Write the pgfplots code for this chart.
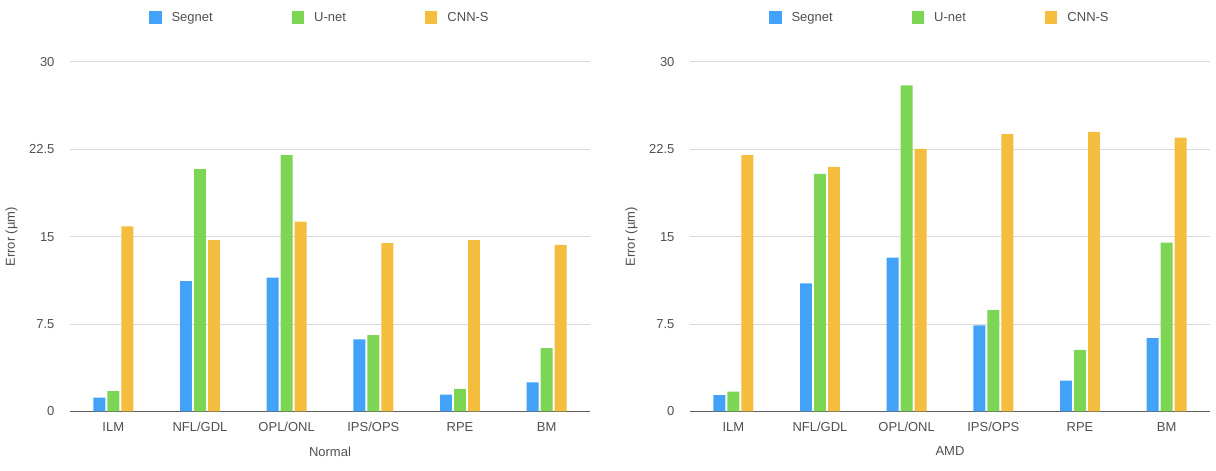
\documentclass[border=0pt]{standalone}
\usepackage{pgfplots}
\pgfplotsset{compat=1.18}
\usepackage{fontspec}
\setmainfont{Liberation Sans}
\definecolor{segblue}{RGB}{66,162,247}
\definecolor{ugreen}{RGB}{124,214,84}
\definecolor{cyellow}{RGB}{245,189,62}
\definecolor{txt}{RGB}{80,80,80}
\definecolor{gridc}{RGB}{217,217,217}
\definecolor{axc}{RGB}{95,95,95}
\pgfplotsset{
  mybars/.style={
    scale only axis, width=520pt, height=349.5pt,
    xmin=-0.5, xmax=5.5, ymin=0, ymax=30,
    xtick={0,1,2,3,4,5},
    xticklabels={ILM,NFL/GDL,OPL/ONL,IPS/OPS,RPE,BM},
    ytick={7.5,15,22.5,30},
    extra y ticks={0}, extra y tick labels={0},
    extra y tick style={grid style={draw=axc, line width=1.6pt}},
    ymajorgrids, grid style={draw=gridc, line width=1pt},
    axis line style={draw=none},
    major tick length=0pt,
    tick label style={font=\fontsize{13}{15}\selectfont, text=txt},
    /pgf/number format/assume math mode=true,
    yticklabel style={xshift=-12pt},
    xticklabel style={text height=9.5pt, text depth=2pt, yshift=-7pt},
    label style={font=\fontsize{13}{15}\selectfont, text=txt},
    xlabel style={at={(axis description cs:0.5,0)}, anchor=center, yshift=-40pt},
    ylabel style={at={(axis description cs:0,0.5)}, anchor=center, yshift=58.5pt},
    ylabel={Error (µm)},
    ybar, bar width=0.138,
    legend columns=3,
    legend style={at={(axis description cs:0,1)}, anchor=west, xshift=79pt, yshift=44pt,
      draw=none, fill=none, inner sep=0pt, outer sep=0pt,
      font=\fontsize{13}{15}\selectfont, text=txt,
      nodes={inner sep=0pt, anchor=west},
      /tikz/every odd column/.append style={column sep=10pt},
      /tikz/every even column/.append style={column sep=79pt}},
    legend image code/.code={\fill[##1,draw=none] (0pt,-6.5pt) rectangle (12.5pt,6.5pt);},
  },
  s1/.style={fill=segblue, draw=none, bar shift=-0.1615},
  s2/.style={fill=ugreen, draw=none, bar shift=0},
  s3/.style={fill=cyellow, draw=none, bar shift=0.1615},
}
\begin{document}
\begin{tikzpicture}[x=1pt,y=1pt]
\useasboundingbox (0,0) rectangle (1216,471);
\begin{axis}[mybars, at={(70pt,59.5pt)}, anchor=south west, xlabel={Normal}]
\addplot[s1] coordinates {(0,1.2) (1,11.2) (2,11.5) (3,6.2) (4,1.45) (5,2.5)};
\addplot[s2] coordinates {(0,1.75) (1,20.8) (2,22.0) (3,6.55) (4,1.95) (5,5.45)};
\addplot[s3] coordinates {(0,15.9) (1,14.7) (2,16.3) (3,14.45) (4,14.7) (5,14.3)};
\legend{Segnet,U-net,CNN-S}
\end{axis}
\begin{axis}[mybars, at={(690pt,59.5pt)}, anchor=south west, xlabel={AMD}]
\addplot[s1] coordinates {(0,1.4) (1,11.0) (2,13.2) (3,7.4) (4,2.65) (5,6.3)};
\addplot[s2] coordinates {(0,1.7) (1,20.4) (2,28.0) (3,8.7) (4,5.3) (5,14.5)};
\addplot[s3] coordinates {(0,22.0) (1,21.0) (2,22.55) (3,23.8) (4,24.0) (5,23.5)};
\legend{Segnet,U-net,CNN-S}
\end{axis}
\end{tikzpicture}
\end{document}
